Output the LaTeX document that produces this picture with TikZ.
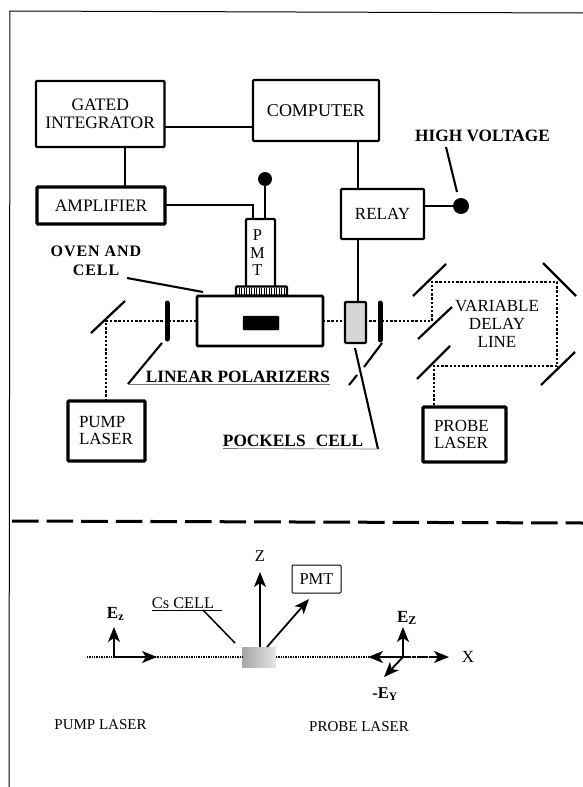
\documentclass[tikz,border=0pt]{standalone}
\usepackage{fontspec}
\setmainfont{Liberation Serif}
\newfontfamily\spacedfont[LetterSpace=6]{Liberation Serif}
\usetikzlibrary{arrows.meta}
\newcommand{\fs}[1]{\fontsize{#1}{#1}\selectfont}
\tikzset{
  box/.style={draw,line width=2.2pt,rounded corners=1pt,inner sep=0pt,outer sep=0pt,fill=white,align=center,font=\fs{17.5}},
  heavybox/.style={box,line width=3.4pt},
  txt/.style={inner sep=0pt,outer sep=0pt,align=center,font=\fs{17}},
  boldtxt/.style={txt,font=\fs{17.3}\bfseries},
  wire/.style={line width=2.1pt},
  beam/.style={line width=2.6pt,dash pattern=on 2.4pt off 1.8pt},
  mirror/.style={line width=2.2pt},
  polarizer/.style={line width=5pt,line cap=round},
  thinbeam/.style={line width=1.4pt,dash pattern=on 1pt off .7pt},
  vec/.style={line width=1.8pt,-{Stealth[length=15pt,width=12pt,inset=4pt]}},
  dotn/.style={circle,fill=black,inner sep=0pt,outer sep=0pt},
  faintline/.style={line width=.6pt,black!55},
}
\begin{document}
\begin{tikzpicture}[x=1pt,y=-1pt]
\useasboundingbox (0,0) rectangle (583,787);
% page frame
\coordinate (fa) at (10,11); \coordinate (fb) at (583,13); \coordinate (fc) at (9,787);
\draw[line width=1pt] (fb) -- (fa) -- (fc);

% --- beam coordinates
\coordinate (m1) at (106,321);
\coordinate (m2) at (432,321);
\coordinate (m3) at (432,282);
\coordinate (m4) at (557,282);
\coordinate (m5) at (557,366);
\coordinate (m6) at (434,366);

% --- boxes
\node[box,minimum width=128.5pt,minimum height=66pt] (gated) at (100.2,114) {GATED\\INTEGRATOR};
\node[box,minimum width=126pt,minimum height=61pt,font=\fs{18}] (computer) at (316,110.5) {COMPUTER};
\node[heavybox,minimum width=128pt,minimum height=37pt] (amp) at (101,205.5) {AMPLIFIER};
\node[box,minimum width=83pt,minimum height=50pt,font=\fs{17}] (relay) at (382.5,214) {RELAY};
\node[box,minimum width=29pt,minimum height=70pt] (pmt) at (260.5,254) {};
\node[txt,font=\fs{16.5},align=center] (pmtlabel) at (257.5,253) {P\\[1pt]M\\[1pt]T};
\node[box,line width=2.8pt,minimum width=126pt,minimum height=50pt] (oven) at (260,321) {};
\node[draw,fill=black,rounded corners=1pt,minimum width=36pt,minimum height=14pt,inner sep=0pt,outer sep=0pt] (sample) at (261,323) {};
\node[box,minimum width=51pt,minimum height=9pt] (flange) at (261.5,291) {};
\foreach \tx in {239,241.5,...,285}{\draw[line width=.9pt] (\tx,288) -- (\tx,294.5);}
\node[heavybox,minimum width=77pt,minimum height=60pt,text width=55pt,align=left,font=\fs{17}] (pump) at (106.5,431) {PUMP\\LASER};
\node[heavybox,minimum width=83pt,minimum height=55pt,text width=61pt,align=left,font=\fs{17}] (probe) at (464.5,434.5) {PROBE\\LASER};

% --- beams
\draw[beam] (pump.north -| m1) -- (m1) -- (oven.west |- m1);
\draw[beam] (oven.east |- m2) -- (m2) -- (m3) -- (m4) -- (m5) -- (m6) -- (probe.north -| m6);

% --- pockels cell and polarizers
\node[box,fill=gray!32,minimum width=21pt,minimum height=41pt] (pockels) at (355.5,322.5) {};
\coordinate (p1a) at (167,303); \coordinate (p1b) at (167,339);
\coordinate (p2a) at (380,303); \coordinate (p2b) at (380,340);
\draw[polarizer] (p1a) -- (p1b);
\draw[polarizer] (p2a) -- (p2b);

% --- mirrors
\draw[mirror] (91,333) -- (125,301);
\draw[mirror] (413,296) -- (446,264);
\draw[mirror] (543,263) -- (576,296);
\draw[mirror] (418,339) -- (452,307);
\draw[mirror] (417,379) -- (450,346);
\draw[mirror] (541,385) -- (575,352);

% --- electronics wiring
\coordinate (xg) at (125,0); \coordinate (yg) at (0,127);
\coordinate (ya) at (0,205); \coordinate (xp) at (253,0); \coordinate (xd) at (265,0);
\coordinate (xr) at (358,0);
\node[dotn,minimum size=14pt] (pmtdot) at (265,179) {};
\node[dotn,minimum size=16pt] (hvdot) at (461,206) {};
\draw[wire] (gated.east |- yg) -- (computer.west |- yg);
\draw[wire] (gated.south -| xg) -- (amp.north -| xg);
\draw[wire] (amp.east |- ya) -- (ya -| xp) -- (pmt.north -| xp);
\draw[wire] (pmtdot) -- (pmt.north -| pmtdot);
\draw[wire] (computer.south -| xr) -- (relay.north -| xr);
\draw[wire] (relay.south -| xr) -- (pockels.north -| xr);
\draw[wire] (relay.east |- hvdot) -- (hvdot);

% --- labels with pointers
\node[boldtxt] (hv) at (482.5,136) {HIGH VOLTAGE};
\coordinate (hva) at (446,147); \coordinate (hvb) at (457,192);
\draw[wire] (hva) -- (hvb);
\node[txt,font=\fs{16}\bfseries\spacedfont] (ovenlabel) at (96,261) {OVEN AND\\[3pt]CELL};
\coordinate (ova) at (127,278); \coordinate (ovb) at (203,292);
\draw[wire] (ova) -- (ovb);
\node[boldtxt] (linpol) at (238,377) {LINEAR POLARIZERS};
\coordinate (lpa) at (128,384); \coordinate (lpb) at (162,343);
\draw[wire] (lpa) -- (lpb);
\coordinate (lpu) at (330,384);
\draw[faintline] (lpa) -- (lpu);
\coordinate (lpc) at (382,343); \coordinate (lpd) at (364,367);
\coordinate (lpe) at (357,375); \coordinate (lpf) at (349,385);
\draw[wire] (lpc) -- (lpd);
\draw[wire] (lpe) -- (lpf);
\node[boldtxt] (pockelslabel) at (293,441) {POCKELS\hspace{6pt} CELL};
\coordinate (pca) at (355,348); \coordinate (pcb) at (378,449);
\draw[wire] (pca) -- (pcb);
\coordinate (pua) at (223,448.5);
\draw[faintline] (pua) -- (pcb);
\node[txt,font=\fs{17}] (delay) at (497,324) {VARIABLE\\[1pt]DELAY\\[1pt]LINE};

% --- separator
\coordinate (sa) at (12,521); \coordinate (sb) at (583,523);
\draw[line width=3pt,dash pattern=on 26.6pt off 8pt] (sa) -- (sb);

% --- lower geometry
\coordinate (la) at (87,657); \coordinate (ra) at (433,657);
\node[draw=none,left color=gray!70,right color=gray!20,minimum width=34pt,minimum height=20pt,inner sep=0pt,outer sep=0pt] (cell) at (259,657) {};
\draw[thinbeam] (la) -- (cell.west);
\draw[thinbeam] (cell.east) -- (ra);
\node[txt,font=\fs{16.5}] (zlabel) at (260,556) {Z};
\coordinate (ztip) at (260,572);
\draw[vec] (cell.north -| ztip) -- (ztip);
\node[draw,line width=1pt,rounded corners=1pt,minimum width=49pt,minimum height=28pt,inner sep=0pt,outer sep=0pt,font=\fs{16.5}] (pmtbox) at (316.5,579) {PMT};
\coordinate (pa) at (267,647); \coordinate (pb) at (309,599);
\draw[vec] (pa) -- (pb);
\node[txt,font=\fs{16.3}] (cslabel) at (183,603) {Cs CELL};
\coordinate (csa) at (152,610); \coordinate (csb) at (222,610);
\coordinate (csc) at (203,610); \coordinate (csd) at (235,643);
\draw[line width=.8pt] (csa) -- (csb);
\draw[line width=1.5pt] (csc) -- (csd);
% pump polarisation
\coordinate (o1) at (114,657); \coordinate (o1u) at (114,627); \coordinate (o1r) at (157,657);
\draw[vec] (o1) -- (o1u);
\draw[vec] (o1) -- (o1r);
\node[txt,font=\fs{17}\bfseries] (ez1) at (115.5,614) {E\textsubscript{z}};
% probe polarisation
\coordinate (o2) at (403,657); \coordinate (o2u) at (403,627); \coordinate (o2l) at (368,657);
\coordinate (o2d) at (384,677); \coordinate (o2r) at (449,657);
\draw[vec] (o2) -- (o2u);
\draw[vec] (o2) -- (o2l);
\draw[vec] (o2) -- (o2d);
\draw[thinbeam] (o2) -- (ra);
\draw[line width=1.4pt,-{Stealth[length=15pt,width=12pt,inset=4pt]}] (ra) -- (o2r);
\node[txt,font=\fs{17}\bfseries] (ez2) at (407,618) {E\textsubscript{Z}};
\node[txt,font=\fs{16.5}\bfseries] (ey) at (385,694) {-E\textsubscript{Y}};
\node[txt,font=\fs{17}] (xlabel) at (468,657) {X};
\node[txt,font=\fs{15}] (pumpcap) at (100.5,725) {PUMP LASER};
\node[txt,font=\fs{15}] (probecap) at (359,727) {PROBE LASER};
\end{tikzpicture}
\end{document}
